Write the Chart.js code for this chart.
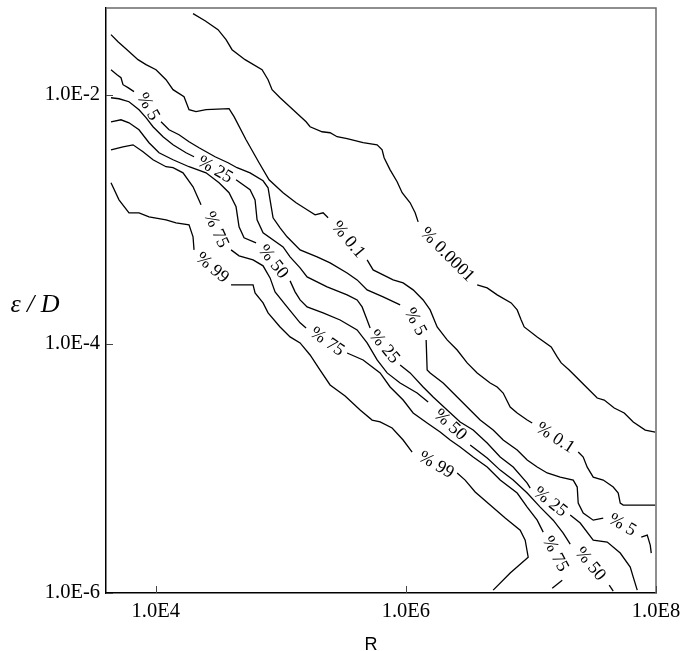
<!DOCTYPE html>
<html><head><meta charset="utf-8">
<script src="https://cdn.jsdelivr.net/npm/chart.js@4.4.1/dist/chart.umd.min.js"></script>
<style>html,body{margin:0;padding:0;background:#fff;}#wrap{width:684px;height:651px;}</style>
</head><body><div id="wrap"><canvas id="c" width="684" height="651"></canvas></div>
<script>
// Axis setup
const X_MIN = 4000, X_MAX = 1e8;
const Y_MIN = 1e-6, Y_MAX = 0.05;
const X_TICKS = [1e4, 1e6, 1e8];
const X_TICK_LABELS = ['1.0E4', '1.0E6', '1.0E8'];
const Y_TICKS = [1e-6, 1e-4, 1e-2];
const Y_TICK_LABELS = ['1.0E-6', '1.0E-4', '1.0E-2'];
const X_TITLE = 'R';
const Y_TITLE = 'ε / D';

// Contour lines; each is a list of segments, points as [log10 R, log10 ε/D]
const C_0_0001 = [
  [[4.298,-1.346],[4.394,-1.403],[4.498,-1.475],[4.562,-1.555],[4.610,-1.636],[4.714,-1.716],[4.850,-1.797],[4.898,-1.877],[4.930,-1.957],[4.994,-2.022],[5.098,-2.118],[5.202,-2.215],[5.234,-2.255],[5.330,-2.295],[5.394,-2.303],[5.450,-2.335],[5.530,-2.351],[5.658,-2.383],[5.770,-2.400],[5.810,-2.440],[5.826,-2.504],[5.874,-2.601],[5.930,-2.697],[5.970,-2.785],[6.034,-2.866],[6.074,-2.946],[6.098,-3.019]],
  [[6.570,-3.525],[6.650,-3.549],[6.730,-3.605],[6.842,-3.670],[6.890,-3.726],[6.922,-3.807],[6.946,-3.863],[7.050,-3.943],[7.162,-4.024],[7.210,-4.104],[7.242,-4.152],[7.306,-4.209],[7.426,-4.329],[7.530,-4.434],[7.586,-4.450],[7.666,-4.514],[7.746,-4.554],[7.818,-4.627],[7.914,-4.691],[7.994,-4.707]]
];
const C_0_1 = [
  [[3.642,-1.515],[3.698,-1.572],[3.770,-1.636],[3.858,-1.716],[3.922,-1.756],[4.002,-1.797],[4.082,-1.877],[4.138,-1.957],[4.226,-2.014],[4.266,-2.118],[4.322,-2.134],[4.402,-2.118],[4.586,-2.110],[4.626,-2.174],[4.722,-2.359],[4.826,-2.544],[4.906,-2.681],[5.018,-2.785],[5.122,-2.866],[5.210,-2.922],[5.274,-2.962],[5.338,-2.946],[5.378,-2.986]],
  [[5.690,-3.324],[5.738,-3.405],[5.818,-3.445],[5.898,-3.485],[5.978,-3.509],[6.058,-3.565],[6.138,-3.646],[6.194,-3.726],[6.250,-3.863],[6.330,-3.967],[6.410,-4.048],[6.490,-4.152],[6.570,-4.233],[6.674,-4.313],[6.730,-4.345],[6.778,-4.394],[6.834,-4.506],[6.890,-4.554],[6.970,-4.611],[7.010,-4.635]],
  [[7.378,-4.868],[7.418,-4.908],[7.450,-4.989],[7.498,-5.069],[7.578,-5.093],[7.658,-5.149],[7.698,-5.197],[7.714,-5.278],[7.738,-5.294],[7.994,-5.294]]
];
const C_5 = [
  [[3.642,-1.797],[3.690,-1.837],[3.722,-1.861],[3.738,-1.917],[3.778,-1.941],[3.826,-1.973]],
  [[4.042,-2.215],[4.106,-2.279],[4.186,-2.319],[4.266,-2.375],[4.346,-2.424],[4.474,-2.496],[4.578,-2.544],[4.650,-2.584],[4.754,-2.625],[4.858,-2.689],[4.898,-2.745],[4.914,-2.842],[4.938,-2.986],[4.994,-3.067],[5.050,-3.139],[5.154,-3.244],[5.290,-3.300],[5.394,-3.348],[5.530,-3.429],[5.610,-3.485],[5.690,-3.565],[5.818,-3.621],[5.954,-3.686]],
  [[6.162,-3.967],[6.170,-4.209],[6.194,-4.232],[6.298,-4.313],[6.410,-4.425],[6.514,-4.530],[6.594,-4.611],[6.698,-4.691],[6.778,-4.771],[6.890,-4.852],[6.970,-4.932],[7.050,-4.988],[7.130,-5.036],[7.234,-5.069],[7.338,-5.093],[7.370,-5.149],[7.378,-5.278],[7.418,-5.358],[7.498,-5.415],[7.578,-5.399]],
  [[7.882,-5.551],[7.930,-5.535],[7.954,-5.615],[7.962,-5.680]]
];
const C_25 = [
  [[3.642,-2.022],[3.706,-2.030],[3.786,-2.054],[3.866,-2.118],[3.922,-2.182],[3.978,-2.255],[4.058,-2.335],[4.138,-2.400],[4.242,-2.464],[4.306,-2.496]],
  [[4.642,-2.681],[4.754,-2.761],[4.794,-2.842],[4.810,-3.003],[4.858,-3.107],[5.018,-3.220],[5.074,-3.300],[5.154,-3.388],[5.210,-3.461],[5.370,-3.541],[5.530,-3.605],[5.610,-3.646],[5.650,-3.702],[5.690,-3.807],[5.714,-3.871]],
  [[5.954,-4.168],[6.034,-4.232],[6.138,-4.345],[6.218,-4.425],[6.330,-4.530],[6.434,-4.626],[6.538,-4.691],[6.650,-4.795],[6.754,-4.908],[6.858,-4.988],[6.970,-5.117],[6.994,-5.157]],
  [[7.314,-5.374],[7.394,-5.438],[7.498,-5.575],[7.610,-5.591],[7.714,-5.679],[7.794,-5.792],[7.818,-5.872],[7.850,-5.977]]
];
const C_50 = [
  [[3.642,-2.215],[3.722,-2.199],[3.786,-2.223],[3.866,-2.279],[3.946,-2.383],[4.026,-2.464],[4.138,-2.520],[4.266,-2.576],[4.402,-2.625],[4.506,-2.705],[4.586,-2.785],[4.642,-2.898],[4.666,-3.059],[4.706,-3.147],[4.802,-3.187]],
  [[5.074,-3.493],[5.114,-3.581],[5.154,-3.646],[5.210,-3.702],[5.338,-3.750],[5.474,-3.807],[5.610,-3.887],[5.690,-3.991],[5.770,-4.128],[5.850,-4.232],[5.954,-4.313],[6.090,-4.393],[6.178,-4.466]],
  [[6.514,-4.811],[6.650,-4.916],[6.754,-5.013],[6.858,-5.093],[6.970,-5.197],[7.074,-5.310],[7.178,-5.415],[7.258,-5.519],[7.314,-5.607]],
  [[7.626,-5.937],[7.658,-5.985]]
];
const C_75 = [
  [[3.642,-2.440],[3.738,-2.416],[3.818,-2.400],[3.898,-2.456],[3.978,-2.520],[4.082,-2.576],[4.138,-2.584],[4.218,-2.625],[4.298,-2.737],[4.362,-2.882]],
  [[4.602,-3.244],[4.666,-3.292],[4.778,-3.324],[4.858,-3.372],[4.914,-3.469],[4.954,-3.581],[5.050,-3.702],[5.154,-3.830],[5.202,-3.871]],
  [[5.530,-4.072],[5.658,-4.128],[5.794,-4.232],[5.874,-4.345],[5.978,-4.450],[6.058,-4.554],[6.170,-4.634],[6.274,-4.707],[6.354,-4.771],[6.434,-4.827],[6.538,-4.908],[6.650,-4.988],[6.754,-5.093],[6.890,-5.197],[6.970,-5.310],[7.050,-5.415],[7.098,-5.511]],
  [[7.250,-5.897],[7.170,-5.961]]
];
const C_99 = [
  [[3.642,-2.705],[3.706,-2.842],[3.786,-2.946],[3.866,-2.946],[3.946,-2.978],[4.082,-3.003],[4.162,-3.027],[4.266,-3.043],[4.298,-3.139],[4.306,-3.244]],
  [[4.602,-3.525],[4.778,-3.525],[4.794,-3.589],[4.858,-3.670],[4.898,-3.750],[4.994,-3.863],[5.074,-3.943],[5.154,-3.991],[5.234,-4.088],[5.314,-4.209],[5.394,-4.329],[5.514,-4.417],[5.634,-4.530],[5.730,-4.611],[5.794,-4.626],[5.890,-4.675],[5.978,-4.771],[6.050,-4.868]],
  [[6.410,-5.036],[6.474,-5.093],[6.554,-5.189],[6.674,-5.294],[6.794,-5.398],[6.914,-5.495],[6.954,-5.575],[6.978,-5.712],[6.834,-5.840],[6.698,-5.977]]
];
const CONTOURS = [C_0_0001, C_0_1, C_5, C_25, C_50, C_75, C_99];

// Contour labels: text, log10 R, log10 ε/D, angle in degrees
const LABEL_TEXT = ['% 0.0001','% 0.1','% 0.1','% 5','% 5','% 5','% 25','% 25','% 25','% 50','% 50','% 50','% 75','% 75','% 75','% 99','% 99'];
const LABEL_LOGR = [6.330, 5.538, 7.194, 3.938, 6.074, 7.730, 4.474, 5.826, 7.154, 4.938, 6.354, 7.474, 4.482, 5.370, 7.194, 4.450, 6.242];
const LABEL_LOGE = [-3.284, -3.163, -4.755, -2.094, -3.822, -5.454, -2.600, -4.023, -5.269, -3.340, -4.650, -5.768, -3.083, -3.983, -5.687, -3.388, -4.972];
const LABEL_ANGLE = [45, 50, 33, 60, 62, 30, 30, 50, 38, 52, 42, 50, 65, 35, 62, 40, 30];

const datasets = [];
CONTOURS.forEach(level => level.forEach(seg => {
  datasets.push({
    data: seg.map(p => ({x: Math.pow(10, p[0]), y: Math.pow(10, p[1])})),
    showLine: true, borderColor: '#000', borderWidth: 1.3, pointRadius: 0, tension: 0, fill: false
  });
}));

function tickLabel(list, labels) {
  return function (v) {
    const i = list.findIndex(t => Math.abs(Math.log10(t) - Math.log10(v)) < 1e-6);
    return i >= 0 ? labels[i] : '';
  };
}

const decor = {
  id: 'decor',
  afterDraw(chart) {
    const {ctx, chartArea: a, scales: {x, y}} = chart;
    ctx.save();
    // top and right frame
    ctx.strokeStyle = '#6a6a6a'; ctx.lineWidth = 1.5;
    ctx.beginPath(); ctx.moveTo(a.left, a.top); ctx.lineTo(a.right, a.top); ctx.lineTo(a.right, a.bottom); ctx.stroke();
    // inward tick marks
    ctx.strokeStyle = '#444'; ctx.lineWidth = 1;
    x.ticks.forEach(t => {
      const px = Math.round(x.getPixelForValue(t.value)) + 0.5;
      ctx.beginPath(); ctx.moveTo(px, a.bottom); ctx.lineTo(px, a.bottom - 7); ctx.stroke();
    });
    y.ticks.forEach(t => {
      const py = Math.round(y.getPixelForValue(t.value)) + 0.5;
      ctx.beginPath(); ctx.moveTo(a.left, py); ctx.lineTo(a.left + 7, py); ctx.stroke();
    });
    // contour labels
    ctx.fillStyle = '#000';
    ctx.font = '18px "Liberation Serif"';
    ctx.textAlign = 'center'; ctx.textBaseline = 'middle';
    LABEL_TEXT.forEach((t, i) => {
      const px = x.getPixelForValue(Math.pow(10, LABEL_LOGR[i]));
      const py = y.getPixelForValue(Math.pow(10, LABEL_LOGE[i]));
      ctx.save(); ctx.translate(px, py); ctx.rotate(LABEL_ANGLE[i] * Math.PI / 180);
      ctx.fillText(t, 0, 0); ctx.restore();
    });
    // axis titles
    ctx.textBaseline = 'alphabetic';
    ctx.font = 'italic 26px "Liberation Serif"';
    ctx.fillText(Y_TITLE, 35, 312);
    ctx.font = '18px "Liberation Sans"';
    ctx.fillText(X_TITLE, 371, 650);
    ctx.restore();
  }
};

new Chart(document.getElementById('c'), {
  type: 'scatter',
  data: {datasets},
  options: {
    responsive: false, animation: false,
    layout: {padding: {top: 8, right: 28, left: 0, bottom: 0}},
    plugins: {legend: {display: false}, tooltip: {enabled: false}},
    scales: {
      x: {
        type: 'logarithmic', min: X_MIN, max: X_MAX,
        grid: {display: false, drawTicks: false},
        border: {display: true, color: '#000', width: 1.5},
        afterBuildTicks: s => { s.ticks = X_TICKS.map(v => ({value: v})); },
        afterFit: s => { s.height = 58; s.paddingLeft = 0; s.paddingRight = 0; },
        ticks: {autoSkip: false, maxRotation: 0, minRotation: 0, padding: 6, color: '#000',
          font: {family: 'Liberation Serif', size: 20.5}, callback: tickLabel(X_TICKS, X_TICK_LABELS)}
      },
      y: {
        type: 'logarithmic', min: Y_MIN, max: Y_MAX,
        grid: {display: false, drawTicks: false},
        border: {display: true, color: '#000', width: 1.5},
        afterBuildTicks: s => { s.ticks = Y_TICKS.map(v => ({value: v})); },
        afterFit: s => { s.width = 106; s.paddingTop = 0; s.paddingBottom = 0; },
        ticks: {autoSkip: false, padding: 6, color: '#000',
          font: {family: 'Liberation Serif', size: 20.5}, callback: tickLabel(Y_TICKS, Y_TICK_LABELS)}
      }
    }
  },
  plugins: [decor]
});
</script></body></html>
